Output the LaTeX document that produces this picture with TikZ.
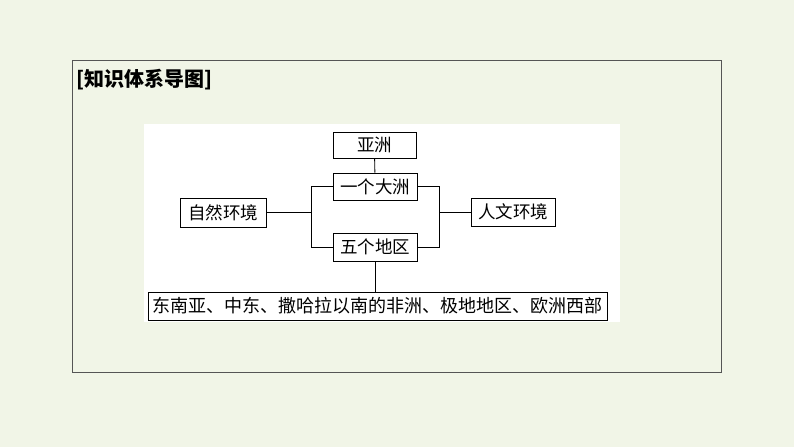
\documentclass[tikz,border=0pt]{standalone}
\usepackage{fontspec}
\newfontfamily\cjk{Noto Sans CJK SC}
\usetikzlibrary{positioning}
\definecolor{pagebg}{HTML}{F1F5E7}
\definecolor{framecolor}{HTML}{555555}
\tikzset{
  topicbox/.style={draw, line width=0.9pt, minimum height=27pt, inner xsep=2pt, inner ysep=1pt, font=\cjk\fontsize{17.5}{19}\selectfont},
  link/.style={line width=0.9pt}
}
\begin{document}
\begin{tikzpicture}[x=1pt, y=-1pt]
  \fill[pagebg] (0,0) rectangle (794,447);
  \useasboundingbox (0,0) rectangle (794,447);
  \draw[framecolor, line width=0.8pt] (72,60) rectangle (721,372);
  \node[anchor=west, font=\cjk\bfseries\fontsize{20}{22}\selectfont] (title) at (73,80) {[知识体系导图]};

  % === white panel ===
  \fill[white] (144,124) rectangle (620,322);

  \node[topicbox, minimum width=83pt, minimum height=26pt] (asia) at (374.5,145) {亚洲};
  \node[topicbox, minimum width=84pt] (onecont) at (375,186.5) {一个大洲};
  \node[topicbox, minimum width=84pt, minimum height=28pt] (fiveregion) at (375,247) {五个地区};
  \node[topicbox, minimum width=86pt, minimum height=29pt] (nature) at (223,212.5) {自然环境};
  \node[topicbox, minimum width=84pt, minimum height=28pt] (human) at (513,212) {人文环境};
  \node[topicbox, minimum width=459pt, minimum height=28pt, font=\cjk\fontsize{18}{20}\selectfont] (regions) at (377.5,306) {东南亚、中东、撒哈拉以南的非洲、极地地区、欧洲西部};

  % connectors
  \draw[link] (asia) -- (onecont);
  \draw[link] (fiveregion) -- (fiveregion |- regions.north);
  \draw[link] (onecont.west) -| (311,247) -- (fiveregion.west);
  \draw[link] (onecont.east) -| (439,247) -- (fiveregion.east);
  \draw[link] (nature.east) -- (311,212.5);
  \draw[link] (human.west) -- (439,212);
\end{tikzpicture}
\end{document}
